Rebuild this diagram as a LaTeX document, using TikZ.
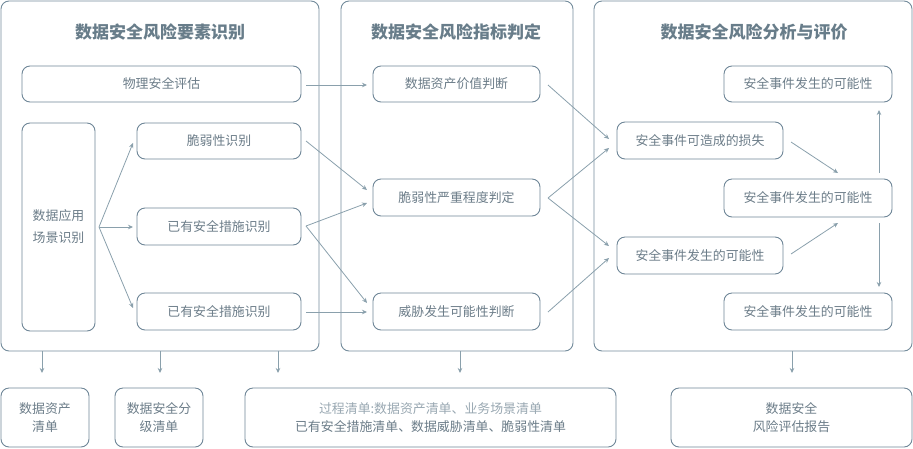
\documentclass[tikz,border=0pt]{standalone}
\usepackage{fontspec}
\setmainfont{Noto Sans CJK SC}
\usetikzlibrary{arrows.meta}
\definecolor{edgec}{HTML}{6E8697}
\definecolor{panelc}{HTML}{738B9B}
\definecolor{linec}{HTML}{8AA0AC}
\definecolor{txtc}{HTML}{6B7C88}
\definecolor{titlec}{HTML}{687D8A}
\definecolor{lighttxt}{HTML}{98A7B1}
\tikzset{
  panel/.style={draw=panelc, line width=0.9pt, rounded corners=8pt, inner sep=0pt, outer sep=0pt, anchor=north west},
  box/.style={draw=edgec, line width=0.9pt, rounded corners=8pt, inner sep=0pt, outer sep=0pt, anchor=north west, align=center, text=txtc, font=\fontsize{12.9}{18}\selectfont},
  ttl/.style={text=titlec, font=\fontsize{17}{20}\selectfont\bfseries},
  conn/.style={draw=linec, line width=0.8pt, -{Stealth[length=5pt,width=4.5pt]}}
}
\begin{document}
\begin{tikzpicture}[x=1pt,y=-1pt]
\useasboundingbox (0,0) rectangle (913,448);
% panels
\node[panel, minimum width=318pt, minimum height=350pt] (p1) at (1,1) {};
\node[panel, minimum width=232pt, minimum height=350pt] (p2) at (341,1) {};
\node[panel, minimum width=318pt, minimum height=350pt] (p3) at (594,1) {};
\node[ttl] (t1) at (160,32) {数据安全风险要素识别};
\node[ttl] (t2) at (456,32) {数据安全风险指标判定};
\node[ttl] (t3) at (754,32) {数据安全风险分析与评价};
% panel 1
\node[box, minimum width=279pt, minimum height=36pt] (a1) at (22,66) {物理安全评估};
\node[box, minimum width=73pt, minimum height=208pt, font=\fontsize{12.9}{22}\selectfont] (a0) at (22,123) {数据应用\\场景识别};
\node[box, minimum width=164pt, minimum height=36pt] (a2) at (137,123) {脆弱性识别};
\node[box, minimum width=164pt, minimum height=37pt] (a3) at (137,208) {已有安全措施识别};
\node[box, minimum width=164pt, minimum height=37pt] (a4) at (137,293) {已有安全措施识别};
% panel 2
\node[box, minimum width=167pt, minimum height=36pt] (b1) at (373,66) {数据资产价值判断};
\node[box, minimum width=167pt, minimum height=37pt] (b2) at (373,179) {脆弱性严重程度判定};
\node[box, minimum width=167pt, minimum height=37pt] (b3) at (373,293) {威胁发生可能性判断};
% panel 3
\node[box, minimum width=166pt, minimum height=37pt] (c1) at (617,122) {安全事件可造成的损失};
\node[box, minimum width=166pt, minimum height=37pt] (c2) at (617,237) {安全事件发生的可能性};
\node[box, minimum width=168pt, minimum height=36pt] (d1) at (724,66) {安全事件发生的可能性};
\node[box, minimum width=168pt, minimum height=38pt] (d2) at (724,179) {安全事件发生的可能性};
\node[box, minimum width=168pt, minimum height=37pt] (d3) at (724,293) {安全事件发生的可能性};
% bottom boxes
\node[box, minimum width=88pt, minimum height=59pt] (e1) at (1,388) {数据资产\\清单};
\node[box, minimum width=88pt, minimum height=59pt] (e2) at (115,388) {数据安全分\\级清单};
\node[box, minimum width=371pt, minimum height=59pt] (e3) at (245,388) {\textcolor{lighttxt}{过程清单:数据资产清单、业务场景清单}\\已有安全措施清单、数据威胁清单、脆弱性清单};
\node[box, minimum width=241pt, minimum height=59pt] (e4) at (671,388) {数据安全\\风险评估报告};
% coordinates
\coordinate (s0) at (99,227);
\coordinate (s1) at (306,85);
\coordinate (s2) at (306,141);
\coordinate (s3) at (306,226);
\coordinate (s4) at (306,312);
\coordinate (u1) at (548,85);
\coordinate (u2) at (548,198);
\coordinate (u3) at (548,312);
\coordinate (v1) at (791,142);
\coordinate (v2) at (791,254);
% panel 1 arrows
\draw[conn] (s0) -- (133,143);
\draw[conn] (s0) -- (133,227);
\draw[conn] (s0) -- (133,308);
% to panel 2
\draw[conn] (s1) -- (367,85);
\draw[conn] (s2) -- (367,190);
\draw[conn] (s3) -- (367,203);
\draw[conn] (s3) -- (367,303);
\draw[conn] (s4) -- (367,312);
% to panel 3
\draw[conn] (u1) -- (609,139);
\draw[conn] (u2) -- (609,148);
\draw[conn] (u2) -- (609,246);
\draw[conn] (u3) -- (609,258);
\draw[conn] (v1) -- (838,173);
\draw[conn] (v2) -- (838,223);
\draw[conn] (879,173) -- (879,110);
\draw[conn] (879,223) -- (879,287);
% bottom arrows
\foreach \x/\n in {42/f1,160/f2,278/f3,460/f4,792/f5}{
  \coordinate (\n a) at (\x,351);
  \coordinate (\n b) at (\x,373);
  \draw[conn] (\n a) -- (\n b);
}
\end{tikzpicture}
\end{document}
